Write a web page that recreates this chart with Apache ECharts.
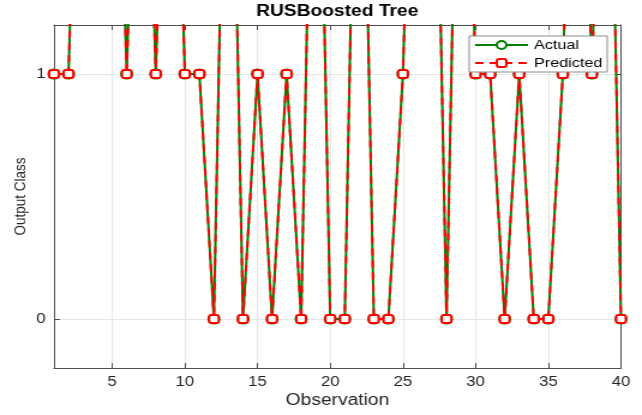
<!DOCTYPE html>
<html>
<head>
<meta charset="utf-8">
<script src="https://cdn.jsdelivr.net/npm/echarts@6/dist/echarts.min.js"></script>
<style>
  html, body { margin: 0; padding: 0; background: #fff; overflow: hidden; }
  #wrap { width: 642px; height: 415px; overflow: hidden; }
  /* the chart is laid out narrower and widened to the page width */
  #chart { width: 535px; height: 415px; transform: scaleX(1.2); transform-origin: 0 0; }
</style>
</head>
<body>
<div id="wrap"><div id="chart"></div></div>
<script>
// Observation index 1..40
const observations = [1,2,3,4,5,6,7,8,9,10,11,12,13,14,15,16,17,18,19,20,
                      21,22,23,24,25,26,27,28,29,30,31,32,33,34,35,36,37,38,39,40];
// Class labels per observation
const actualClass    = [1,1,3,3,3,1,3,1,3,1,1,0,3,0,1,0,1,0,3,0,
                        0,3,0,0,1,3,3,0,3,1,1,0,1,0,0,1,3,1,3,0];
const predictedClass = [1,1,3,3,3,1,3,1,3,1,1,0,3,0,1,0,1,0,3,0,
                        0,3,0,0,1,3,3,0,3,1,1,0,1,0,0,1,3,1,3,0];
const xTicks = [5,10,15,20,25,30,35,40];
const yTicks = [0,1];

const FONT = 'Liberation Sans';
const GREEN = '#008000';
const RED = '#ff0000';
const AXIS = '#4d4d4d';

const pairs = (ys) => observations.map((x, i) => [x, ys[i]]);

const chart = echarts.init(document.getElementById('chart'), null, { renderer: 'canvas' });

const baseX = {
  type: 'value', min: 1, max: 40,
  axisLine: { show: true, onZero: false, lineStyle: { color: AXIS, width: 1 } },
  axisTick: { show: true, inside: true, length: 5, customValues: xTicks, lineStyle: { color: AXIS } },
  splitLine: { show: false }
};
const baseY = {
  type: 'value', min: -0.2, max: 1.2,
  axisLine: { show: true, onZero: false, lineStyle: { color: AXIS, width: 1 } },
  axisTick: { show: true, inside: true, length: 5, customValues: yTicks, lineStyle: { color: AXIS } },
  splitLine: { show: false }
};

chart.setOption({
  animation: false,
  backgroundColor: '#fff',
  textStyle: { fontFamily: FONT },
  grid: { left: 45, right: 17.5, top: 25, bottom: 47, containLabel: false, outerBoundsMode: 'none' },
  graphic: [{
    type: 'text', x: 281, y: 12,
    style: { text: 'RUSBoosted Tree', font: 'bold 16px ' + FONT, fill: '#000',
             align: 'center', verticalAlign: 'middle' }
  }],
  xAxis: [
    Object.assign({}, baseX, {
      position: 'bottom',
      name: 'Observation', nameLocation: 'middle', nameGap: 25, nameMoveOverlap: false,
      nameTextStyle: { fontSize: 16, color: '#262626', fontFamily: FONT },
      axisLabel: { show: true, customValues: xTicks, margin: 7, fontSize: 14, color: '#262626', fontFamily: FONT },
      splitLine: { show: true, lineStyle: { color: '#e6e6e6', width: 1 } }
    }),
    Object.assign({}, baseX, { position: 'top', axisLabel: { show: false } })
  ],
  yAxis: [
    Object.assign({}, baseY, {
      position: 'left',
      name: 'Output Class', nameLocation: 'middle', nameGap: 21, nameRotate: 90, nameMoveOverlap: false,
      nameTextStyle: { fontSize: 13.5, color: '#262626', fontFamily: FONT },
      axisLabel: { show: true, customValues: yTicks, margin: 7, fontSize: 14, color: '#262626', fontFamily: FONT },
      splitLine: { show: true, lineStyle: { color: '#e6e6e6', width: 1 } }
    }),
    Object.assign({}, baseY, { position: 'right', axisLabel: { show: false } })
  ],
  legend: {
    orient: 'vertical', right: 29, top: 36,
    backgroundColor: '#fff', borderColor: '#8c8c8c', borderWidth: 1,
    padding: [2, 4, 2, 4], itemGap: 4, itemWidth: 44, itemHeight: 10,
    textStyle: { fontSize: 13.5, color: '#000', fontFamily: FONT },
    data: ['Actual', 'Predicted']
  },
  series: [
    {
      name: 'Actual', type: 'line', xAxisIndex: 0, yAxisIndex: 0,
      data: pairs(actualClass), clip: true,
      symbol: 'circle', symbolSize: 9, showAllSymbol: true,
      lineStyle: { color: GREEN, width: 2 },
      itemStyle: { color: '#fff', borderColor: GREEN, borderWidth: 2 },
      z: 2
    },
    {
      name: 'Predicted', type: 'line', xAxisIndex: 0, yAxisIndex: 0,
      data: pairs(predictedClass), clip: true,
      symbol: 'roundRect', symbolSize: [8, 8], showAllSymbol: true,
      lineStyle: { color: RED, width: 2, type: [7, 5] },
      itemStyle: { color: '#fff', borderColor: RED, borderWidth: 2 },
      z: 3
    }
  ]
});
</script>
</body>
</html>
